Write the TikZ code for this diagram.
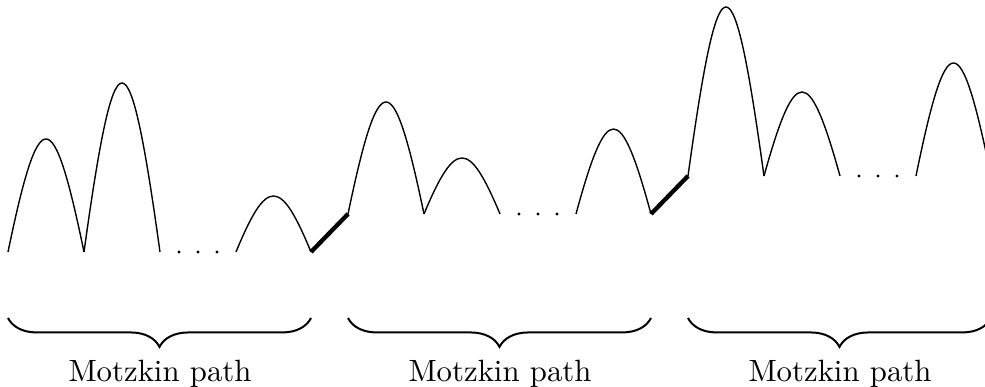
\documentclass[tikz,border=0pt]{standalone}
\usetikzlibrary{decorations.pathreplacing}
\begin{document}
\begin{tikzpicture}[x=0.325pt,y=-0.325pt,
  hump/.style={line width=0.45pt},
  bridge/.style={line width=1.4pt},
  brc/.style={decorate,decoration={brace,amplitude=9.4pt,mirror},line width=0.65pt},
  lbl/.style={anchor=base,font=\fontsize{10}{12}\selectfont},
  dotmark/.style={fill=black}]
\useasboundingbox (0,0) rectangle (985,387);
\clip (0,0) rectangle (985,387);
% humps: start x / end x / height / baseline y
\foreach \a/\b/\h/\y in {
  8/84/113/252, 84/160/169/252, 236/311/56/252,
  348/424/112/214, 424/500/56/214, 576/651/85/214,
  688/764/169/176, 764/840/84/176, 916/991/113/176}
  \draw[hump] (\a,\y) .. controls ({\a+0.41*(\b-\a)},{\y-\h*4/3}) and ({\b-0.41*(\b-\a)},{\y-\h*4/3}) .. (\b,\y);
% dots
\foreach \x/\y in {179/252,198/252,217/252,519/214,538/214,557/214,859/176,878/176,897/176}
  \fill[dotmark] (\x,\y) circle[radius=1.7];
% bridges
\coordinate (a1) at (311,252);
\coordinate (a2) at (348,214);
\coordinate (b1) at (651,214);
\coordinate (b2) at (688,176);
\draw[bridge] (a1) -- (a2);
\draw[bridge] (b1) -- (b2);
% braces
\coordinate (l1) at (8,318);   \coordinate (r1) at (311,318);
\coordinate (l2) at (348,318); \coordinate (r2) at (651,318);
\coordinate (l3) at (688,318); \coordinate (r3) at (991,318);
\draw[brc] (l1) -- (r1);
\draw[brc] (l2) -- (r2);
\draw[brc] (l3) -- (r3);
\node[lbl] (t1) at (160,382) {Motzkin path};
\node[lbl] (t2) at (500,382) {Motzkin path};
\node[lbl] (t3) at (840,382) {Motzkin path};
\end{tikzpicture}
\end{document}
